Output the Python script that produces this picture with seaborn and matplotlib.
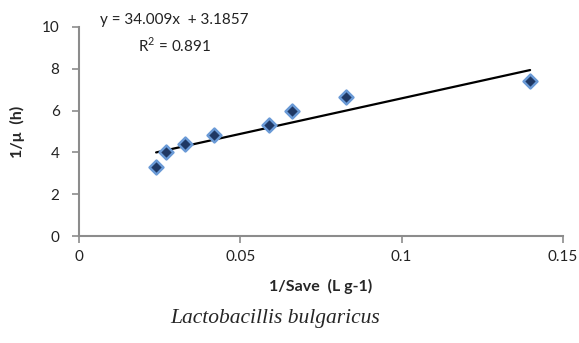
import matplotlib
matplotlib.use("Agg")
import matplotlib.pyplot as plt
import seaborn as sns
import numpy as np
import pandas as pd

inv_s = [0.0239, 0.0269, 0.0328, 0.0418, 0.0590, 0.0660, 0.0828, 0.1398]
inv_mu = [3.31, 4.00, 4.38, 4.82, 5.30, 5.96, 6.65, 7.43]
slope = 34.009
intercept = 3.1857
eq_text = "y = 34.009x  + 3.1857"
r2_text = "R$^2$ = 0.891"
x_ticks = [0, 0.05, 0.1, 0.15]
x_labels = ["0", "0.05", "0.1", "0.15"]
y_ticks = [0, 2, 4, 6, 8, 10]

sns.set_style("white")
plt.rcParams["font.family"] = ["Lato", "DejaVu Sans"]
plt.rcParams["mathtext.fontset"] = "custom"
plt.rcParams["mathtext.rm"] = "Lato"

df = pd.DataFrame({"x": inv_s, "y": inv_mu})
fit_x = [min(inv_s), max(inv_s)]
fit = pd.DataFrame({"x": fit_x, "y": [slope * v + intercept for v in fit_x]})

fig = plt.figure(figsize=(5.79, 3.43), dpi=100)
ax = fig.add_axes([79 / 579, 1 - 236 / 343, (563 - 79) / 579, (236 - 27) / 343])

sns.scatterplot(data=df, x="x", y="y", ax=ax, marker="D", s=50,
                color="#1f3864", edgecolor="#6a9ad6", linewidth=1.8, zorder=3)
sns.lineplot(data=fit, x="x", y="y", ax=ax, color="black", linewidth=1.6, zorder=2)

ax.set_xlim(0, 0.15)
ax.set_ylim(0, 10)
ax.set_xticks(x_ticks)
ax.set_xticklabels(x_labels)
ax.set_yticks(y_ticks)
for s in ["top", "right"]:
    ax.spines[s].set_visible(False)
for s in ["left", "bottom"]:
    ax.spines[s].set_color("#8c8c8c")
    ax.spines[s].set_linewidth(1.5)
ax.tick_params(axis="both", direction="out", length=5, width=1.2, color="#8c8c8c",
               labelsize=11, labelcolor="#222222", bottom=True, left=True)
ax.tick_params(axis="y", pad=9)
ax.tick_params(axis="x", pad=5)

ax.set_xlabel("1/Save  (L g-1)", fontsize=11.5, fontweight="bold", labelpad=11)
ax.set_ylabel("1/μ  (h)", fontsize=11.5, fontweight="bold", labelpad=12)

fig.text(174 / 579, 1 - 20 / 343, eq_text, fontsize=11, ha="center", va="center", color="#222222")
fig.text(174 / 579, 1 - 45 / 343, r2_text, fontsize=11, ha="center", va="center", color="#222222")
fig.text(275 / 579, 1 - 318 / 343, "Lactobacillis bulgaricus", fontsize=15.5, style="italic",
         family=["Liberation Serif", "DejaVu Serif"], ha="center", va="center")

fig.savefig("out.png", dpi=100)
